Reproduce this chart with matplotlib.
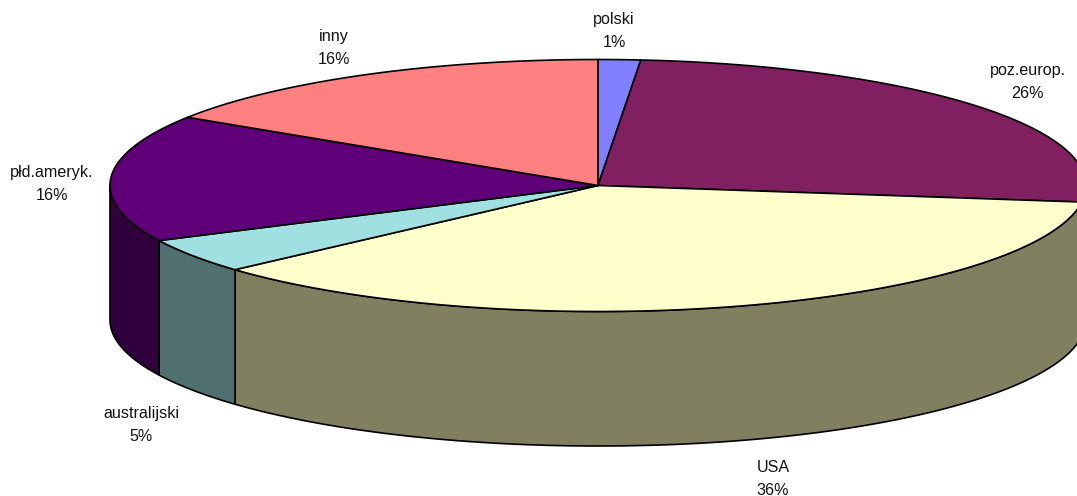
import numpy as np
import matplotlib
matplotlib.use("Agg")
import matplotlib.pyplot as plt

plt.rcParams["font.family"] = ["Liberation Sans", "DejaVu Sans"]

# Slices clockwise from the top
categories = ["polski", "poz.europ.", "USA", "australijski", "płd.ameryk.", "inny"]
values = [1.4, 25.7, 36.25, 4.45, 16.3, 15.9]
percent_labels = ["1%", "26%", "36%", "5%", "16%", "16%"]

top_colors = ["#8080FF", "#802060", "#FFFFCC", "#A0E0E0", "#600078", "#FF8080"]
side_colors = ["#404080", "#401030", "#808060", "#507070", "#30003C", "#804040"]

# Label centres in pixels
label_x = [614, 1028, 773, 141, 52, 334]
label_y = [31, 82, 479, 425, 184, 48]

cx, cy = 598, 185.5
rx, ry = 488, 126
depth = 134.5

fig = plt.figure(figsize=(10.77, 4.96), dpi=100)
ax = fig.add_axes([0, 0, 1, 1])
ax.set_xlim(0, 1077)
ax.set_ylim(496, 0)
ax.axis("off")


def rim(a0, a1):
    # angle is clockwise from the top of the ellipse
    t = np.radians(np.linspace(a0, a1, 200))
    return cx + rx * np.sin(t), cy - ry * np.cos(t)


edges = np.concatenate([[0], np.cumsum(values)]) / np.sum(values) * 360

# Side walls, only the front half shows
for i in range(len(values)):
    a0 = max(edges[i], 90)
    a1 = min(edges[i + 1], 270)
    if a0 >= a1:
        continue
    x, y = rim(a0, a1)
    xs = np.concatenate([x, x[::-1]])
    ys = np.concatenate([y, y[::-1] + depth])
    ax.fill(xs, ys, facecolor=side_colors[i], edgecolor="black", lw=1.2, joinstyle="round")

# Top face
for i in range(len(values)):
    x, y = rim(edges[i], edges[i + 1])
    xs = np.concatenate([[cx], x])
    ys = np.concatenate([[cy], y])
    ax.fill(xs, ys, facecolor=top_colors[i], edgecolor="black", lw=1.2, joinstyle="round")

for i in range(len(categories)):
    ax.text(label_x[i], label_y[i], categories[i] + "\n" + percent_labels[i],
            ha="center", va="center", fontsize=11.6, color="#111111", linespacing=1.6)

fig.savefig("out.png", dpi=100)
